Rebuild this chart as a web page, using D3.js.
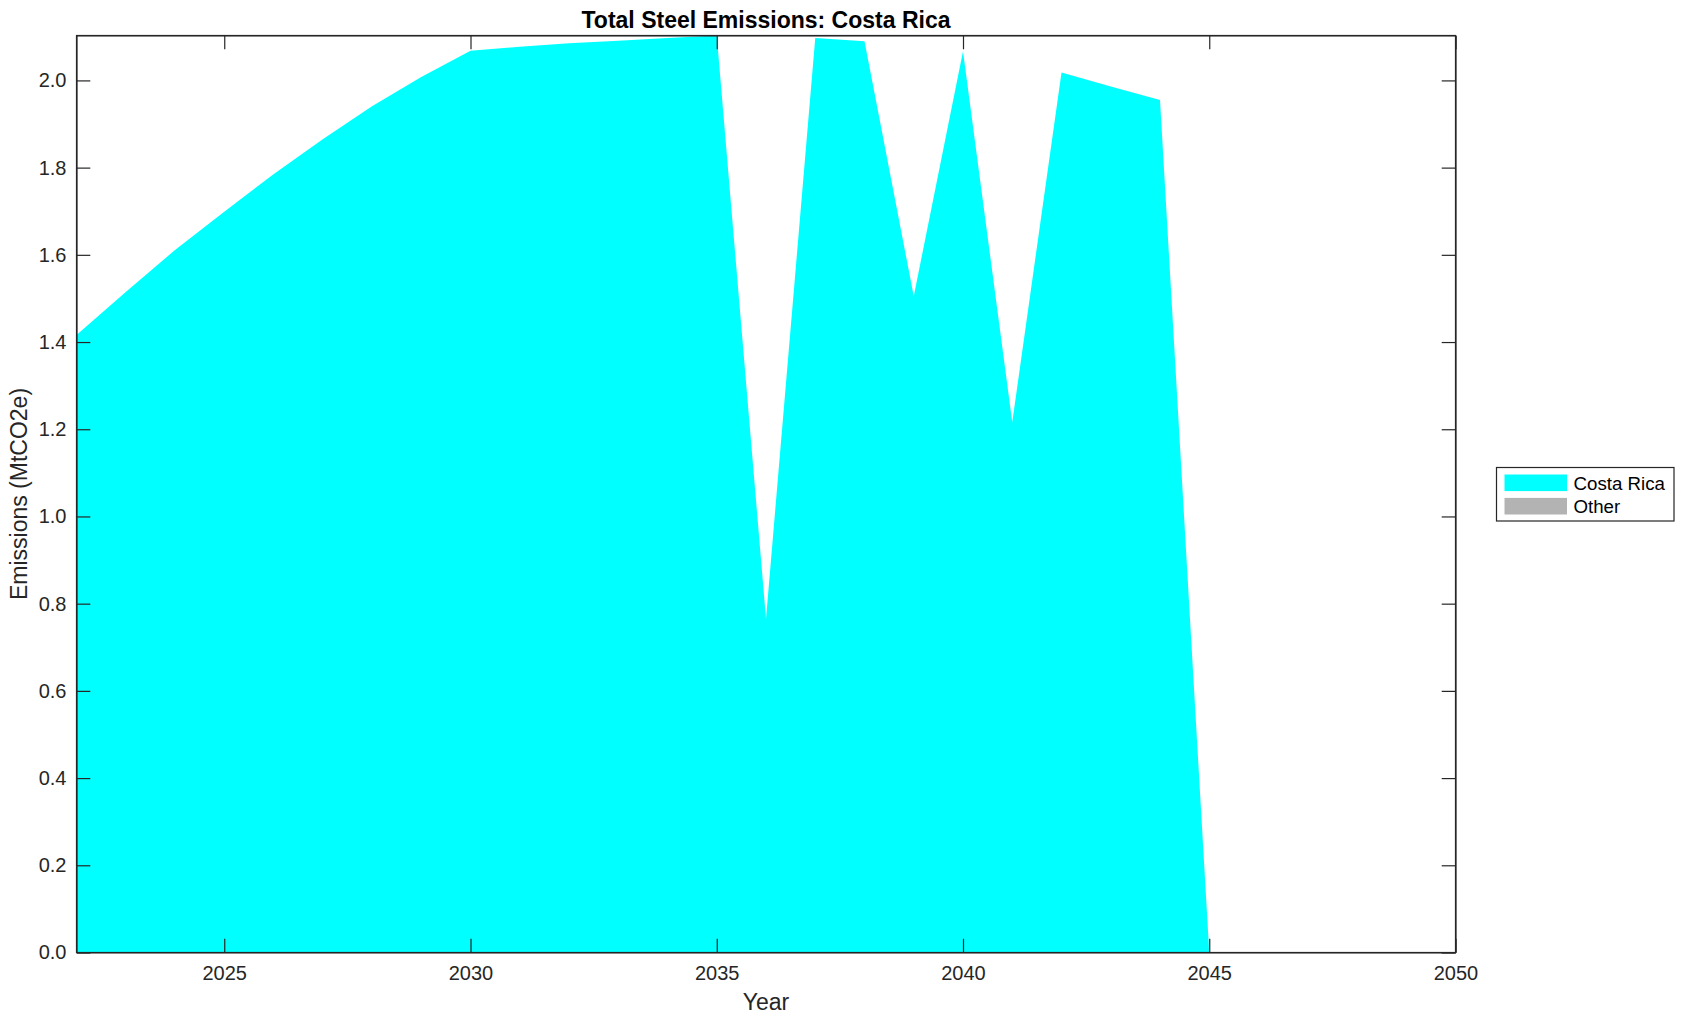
<!DOCTYPE html>
<html>
<head>
<meta charset="utf-8">
<script src="https://d3js.org/d3.v7.min.js"></script>
<style>
  body { margin: 0; background: #fff; }
  svg text { font-family: "Liberation Sans", Arial, Helvetica, sans-serif; fill: #262626; }
</style>
</head>
<body>
<svg id="svg" width="1685" height="1021"></svg>
<script>
// values
var years = [2022, 2023, 2024, 2025, 2026, 2027, 2028, 2029, 2030, 2031,
             2032, 2033, 2034, 2035, 2036, 2037, 2038, 2039, 2040, 2041,
             2042, 2043, 2044, 2045, 2046, 2047, 2048, 2049, 2050];
var costaRica = [1.416, 1.515, 1.611, 1.699, 1.785, 1.865, 1.941, 2.008, 2.068, 2.077,
                 2.085, 2.091, 2.097, 2.103, 0.765, 2.097, 2.090, 1.505, 2.067, 1.216,
                 2.018, 1.986, 1.955, 0, 0, 0, 0, 0, 0];
var other = [0, 0, 0, 0, 0, 0, 0, 0, 0, 0,
             0, 0, 0, 0, 0, 0, 0, 0, 0, 0,
             0, 0, 0, 0, 0, 0, 0, 0, 0];
var seriesNames = ["Costa Rica", "Other"];
var seriesColors = ["#00ffff", "#b3b3b3"];
var xTicks = [2025, 2030, 2035, 2040, 2045, 2050];
var yTicks = [0, 0.2, 0.4, 0.6, 0.8, 1.0, 1.2, 1.4, 1.6, 1.8, 2.0];

// plot box (window.top is reserved, so use other names)
var plotLeft = 76.5, plotRight = 1455.5, plotTop = 35.5, plotBottom = 952.5;
var tickLen = 13.8;
var ink = "#262626";

var svg = d3.select("#svg");

var rows = years.map(function(yr, i) {
  return {year: yr, "Costa Rica": costaRica[i], "Other": other[i]};
});
var stacked = d3.stack().keys(seriesNames)(rows);

var x = d3.scaleLinear().domain([years[0], years[years.length - 1]]).range([plotLeft, plotRight]);
var yMax = d3.max(stacked[stacked.length - 1], function(d) { return d[1]; });
var y = d3.scaleLinear().domain([0, yMax]).range([plotBottom, plotTop]);

svg.append("clipPath").attr("id", "plotclip")
  .append("rect")
  .attr("x", plotLeft).attr("y", plotTop)
  .attr("width", plotRight - plotLeft).attr("height", plotBottom - plotTop);

var area = d3.area()
  .x(function(d) { return x(d.data.year); })
  .y0(function(d) { return y(d[0]); })
  .y1(function(d) { return y(d[1]); });

svg.append("g").attr("clip-path", "url(#plotclip)")
  .selectAll("path")
  .data(stacked)
  .join("path")
  .attr("d", area)
  .attr("fill", function(d, i) { return seriesColors[i]; })
  .attr("stroke", "none");

// axes, ticks pointing inwards, on all four sides
// (with a negative inner size d3 puts the labels tickPadding away from the line)
svg.append("g").attr("class", "axis")
  .attr("transform", "translate(0," + plotBottom + ")")
  .call(d3.axisBottom(x).tickValues(xTicks).tickSizeInner(-tickLen).tickSizeOuter(0)
        .tickPadding(13).tickFormat(d3.format("d")));
svg.append("g").attr("class", "axis")
  .attr("transform", "translate(0," + plotTop + ")")
  .call(d3.axisTop(x).tickValues(xTicks).tickSizeInner(-tickLen).tickSizeOuter(0).tickFormat(""));
svg.append("g").attr("class", "axis")
  .attr("transform", "translate(" + plotLeft + ",0)")
  .call(d3.axisLeft(y).tickValues(yTicks).tickSizeInner(-tickLen).tickSizeOuter(0)
        .tickPadding(10).tickFormat(d3.format(".1f")));
svg.append("g").attr("class", "axis")
  .attr("transform", "translate(" + plotRight + ",0)")
  .call(d3.axisRight(y).tickValues(yTicks).tickSizeInner(-tickLen).tickSizeOuter(0).tickFormat(""));

svg.selectAll(".axis text")
  .attr("font-family", null)
  .attr("font-size", null)
  .style("font-size", "20px")
  .attr("fill", ink);
svg.selectAll(".axis path").attr("stroke", ink).attr("stroke-width", 1.2);
svg.selectAll(".axis line").attr("stroke", ink).attr("stroke-width", 1.2);

// box
svg.append("rect")
  .attr("x", plotLeft).attr("y", plotTop)
  .attr("width", plotRight - plotLeft).attr("height", plotBottom - plotTop)
  .attr("fill", "none").attr("stroke", ink).attr("stroke-width", 1.2);

// title and labels
svg.append("text")
  .attr("x", (plotLeft + plotRight) / 2).attr("y", 27.5)
  .attr("text-anchor", "middle")
  .style("font-size", "23px").style("font-weight", "bold")
  .style("fill", "#000")
  .text("Total Steel Emissions: Costa Rica");

svg.append("text")
  .attr("x", (plotLeft + plotRight) / 2).attr("y", 1010)
  .attr("text-anchor", "middle")
  .style("font-size", "23px")
  .text("Year");

svg.append("text")
  .attr("transform", "translate(27," + (plotTop + plotBottom) / 2 + ")rotate(-90)")
  .attr("text-anchor", "middle")
  .style("font-size", "23px")
  .text("Emissions (MtCO2e)");

// legend
var legX = 1496.5, legY = 467.5;
var legend = svg.append("g");
legend.append("rect")
  .attr("x", legX).attr("y", legY)
  .attr("width", 177.5).attr("height", 53.5)
  .attr("fill", "#fff").attr("stroke", ink).attr("stroke-width", 1.2);

for (var counter = 0; counter < seriesNames.length; counter++) {
  legend.append("rect")
    .attr("x", legX + 8).attr("y", legY + 7 + 23.4 * counter)
    .attr("width", 62.5).attr("height", 16.6)
    .attr("fill", seriesColors[counter]);
  legend.append("text")
    .attr("x", legX + 77).attr("y", legY + 22.5 + 23.4 * counter)
    .style("font-size", "18.7px")
    .style("fill", "#000")
    .text(seriesNames[counter]);
}
</script>
</body>
</html>
